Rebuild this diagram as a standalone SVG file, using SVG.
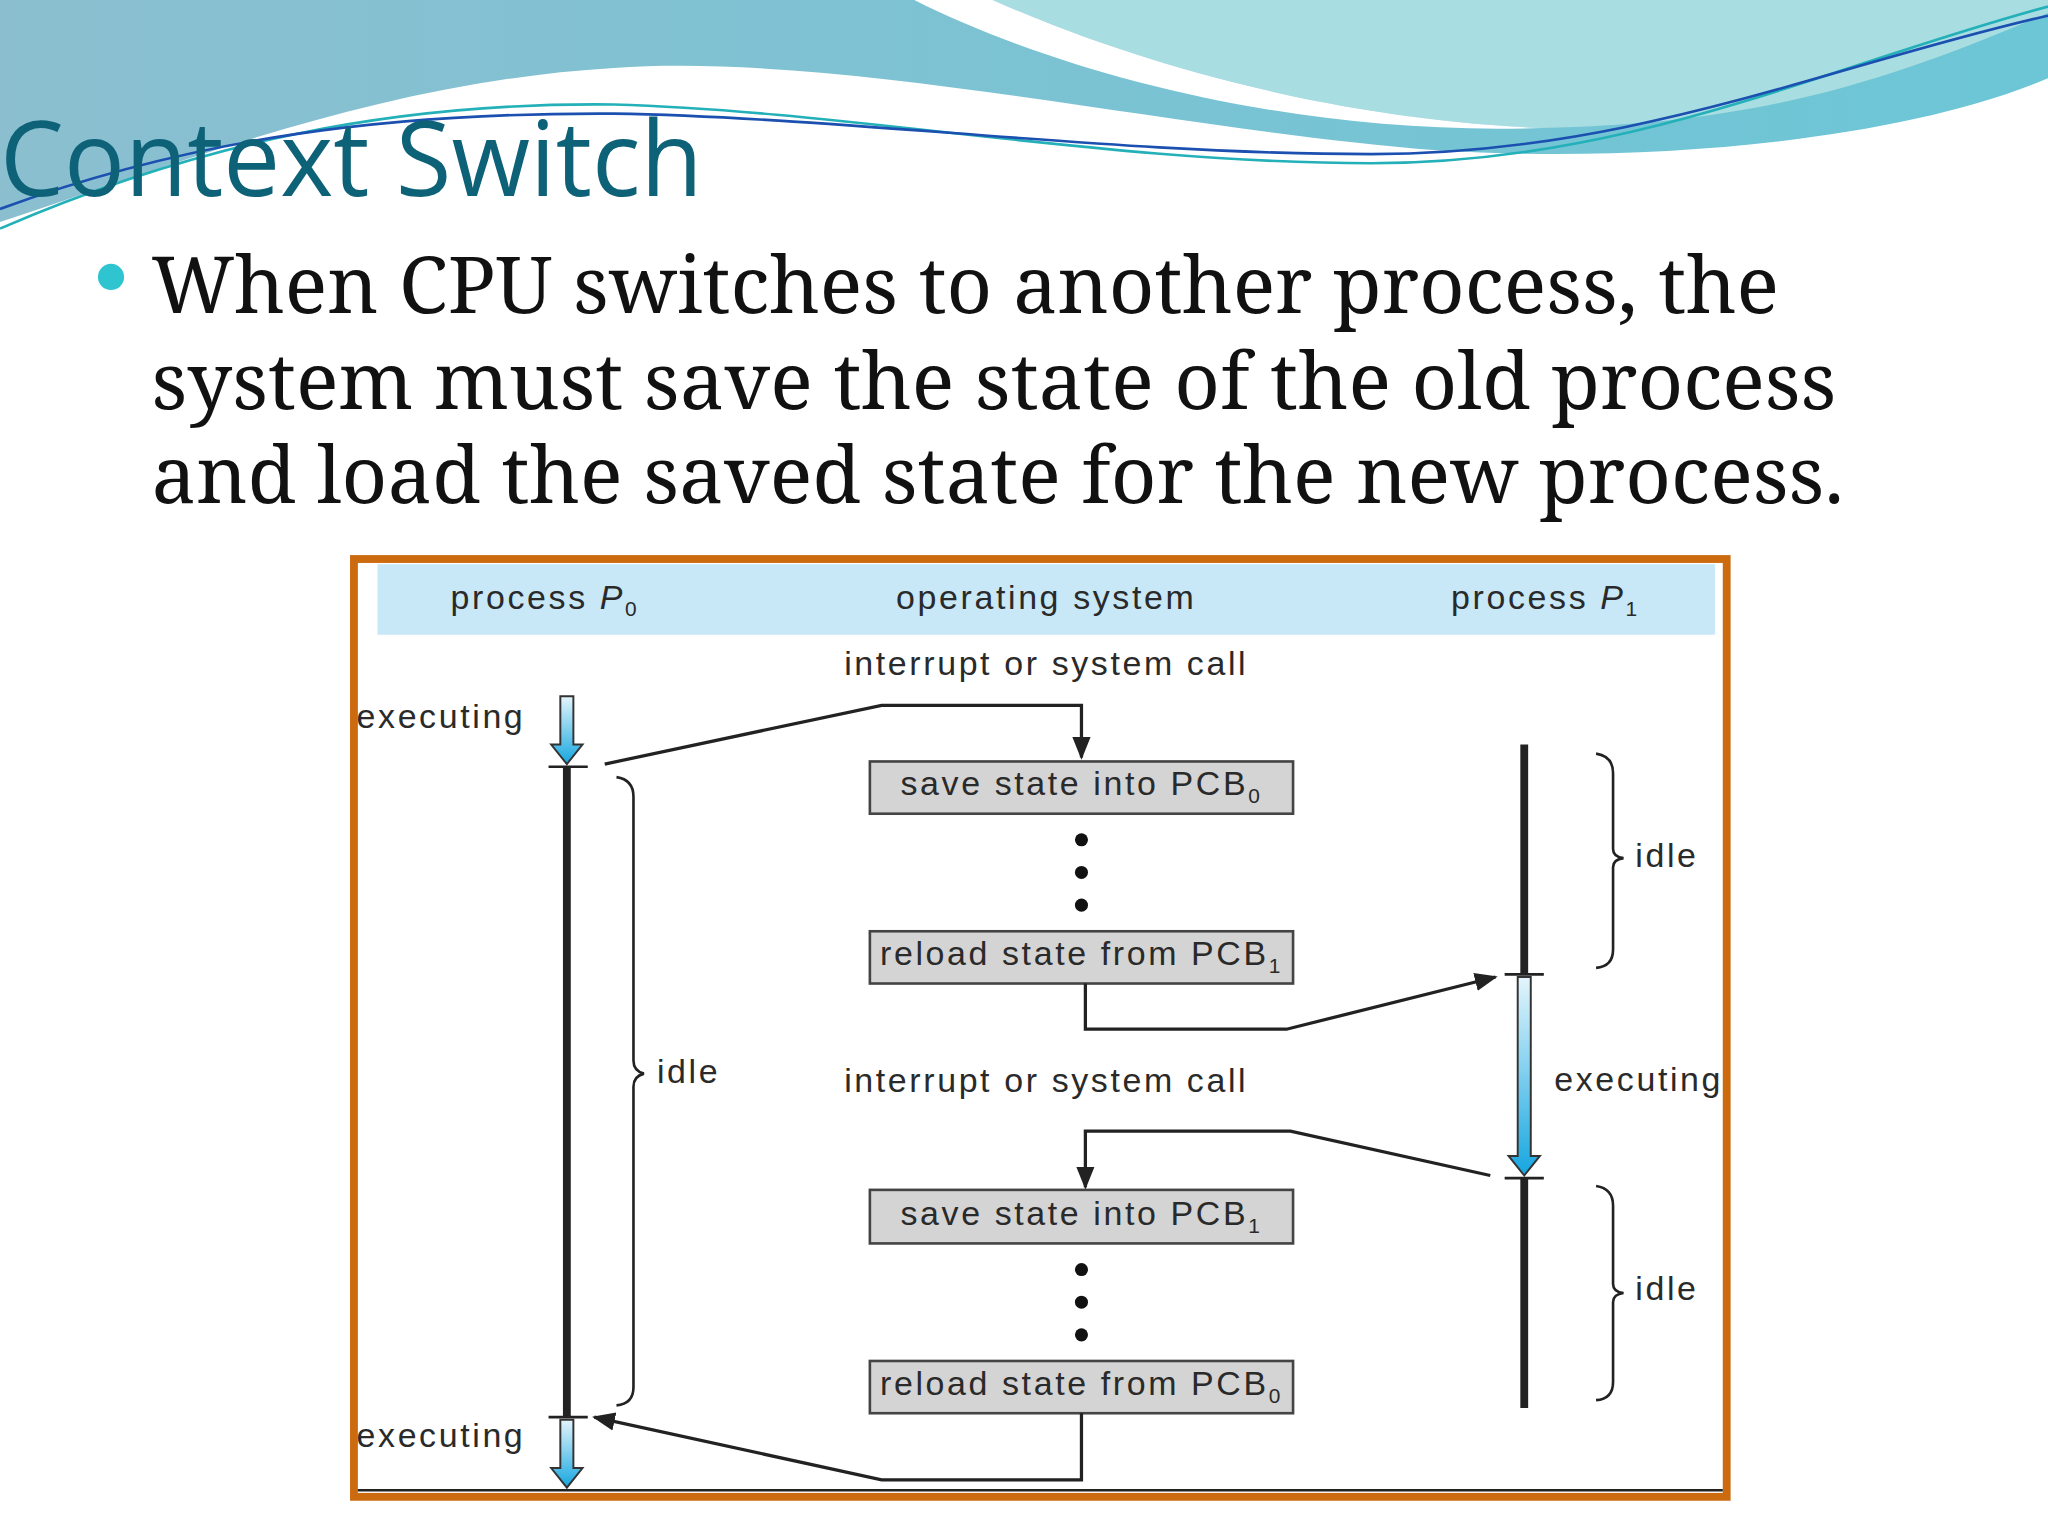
<svg xmlns="http://www.w3.org/2000/svg" width="2048" height="1536" viewBox="0 0 2048 1536">
<defs>
<linearGradient id="ba" x1="0" y1="0" x2="0" y2="1"><stop offset="0" stop-color="#e4f5fc"/><stop offset="1" stop-color="#15a6e0"/></linearGradient>
<linearGradient id="sky" x1="0" y1="0" x2="1" y2="0"><stop offset="0" stop-color="#8bbfd0"/><stop offset="1" stop-color="#6cc6d6"/></linearGradient>
<marker id="ah" viewBox="0 0 10 10" refX="9" refY="5" markerWidth="7" markerHeight="7" orient="auto"><path d="M0,1 L10,5 L0,9 z" fill="#222"/></marker>
<style>
.t{font-family:"Liberation Sans",Arial,sans-serif;font-size:26px;letter-spacing:2px;fill:#2a2a2a}
.box{fill:#d4d4d4;stroke:#444;stroke-width:2}
.ln{fill:none;stroke:#222;stroke-width:2.5}
.br{fill:none;stroke:#222;stroke-width:2}
.bar{stroke:#222;stroke-width:6}
.tick{stroke:#222;stroke-width:2}
.arr{fill:url(#ba);stroke:#333;stroke-width:1.5}
</style>
</defs>
<rect width="2048" height="1536" fill="#fff"/>
<g transform="scale(1.30612)">
<g id="background">
<path d="M0,0 H1568 V60 C1450,110 1250,125 1100,115 C900,100 650,40 470,52 C300,62 150,120 0,170 Z" fill="url(#sky)"/>
<path d="M760,0 H1568 V10 C1450,60 1350,95 1180,98 C1000,90 850,40 760,0 Z" fill="#a8dde2"/>
<path d="M700,0 L760,0 C850,40 1000,90 1180,98 C1000,104 820,60 700,0 Z" fill="#fff"/>
<path d="M0,175 C150,110 300,78 470,80 C650,85 850,125 1050,125 C1250,125 1400,50 1568,5" fill="none" stroke="#23b0b8" stroke-width="2"/>
<path d="M0,160 C150,105 300,86 470,87 C650,90 850,118 1050,118 C1250,118 1400,50 1568,12" fill="none" stroke="#1b4fb0" stroke-width="2"/>
</g>
<g id="title">
<text x="0" y="150" font-family="Open Sans,sans-serif" font-size="80" fill="#0d6278" textLength="538" lengthAdjust="spacingAndGlyphs">Context Switch</text>
</g>
<g id="bullet">
<circle cx="85" cy="212" r="10" fill="#2ec4d0"/>
<text font-family="Noto Serif,DejaVu Serif,Liberation Serif,serif" font-size="60" fill="#111">
<tspan x="116" y="240" textLength="1246" lengthAdjust="spacingAndGlyphs">When CPU switches to another process, the</tspan>
<tspan x="116" y="313" textLength="1290" lengthAdjust="spacingAndGlyphs">system must save the state of the old process</tspan>
<tspan x="116" y="385" textLength="1296" lengthAdjust="spacingAndGlyphs">and load the saved state for the new process.</tspan>
</text>
</g>
<g id="frame">
<rect x="271" y="428" width="1051" height="718" fill="#fff" stroke="#cc6a10" stroke-width="6"/>
<rect x="289" y="432" width="1024" height="54" fill="#c8e8f8"/>
<line x1="274" y1="1141" x2="1319" y2="1141" stroke="#222" stroke-width="2"/>
</g>
<g id="headers">
<text class="t" x="345" y="466">process <tspan font-style="italic">P</tspan><tspan font-size="16" dy="6">0</tspan></text>
<text class="t" x="801" y="466" text-anchor="middle">operating system</text>
<text class="t" x="1111" y="466">process <tspan font-style="italic">P</tspan><tspan font-size="16" dy="6">1</tspan></text>
<text class="t" x="801" y="517" text-anchor="middle">interrupt or system call</text>
<text class="t" x="801" y="836" text-anchor="middle">interrupt or system call</text>
</g>
<g id="p0">
<text class="t" x="273" y="557">executing</text>
<text class="t" x="273" y="1108">executing</text>
<path class="arr" d="M429,533 H439 V570 H446 L434,585 L422,570 H429 Z"/>
<line class="tick" x1="420" y1="587" x2="450" y2="587"/>
<line class="bar" x1="434" y1="587" x2="434" y2="1085"/>
<line class="tick" x1="420" y1="1085" x2="450" y2="1085"/>
<path class="arr" d="M429,1087 H439 V1124 H446 L434,1139 L422,1124 H429 Z"/>
<path class="br" d="M472,595 Q485,597 485,610 V812 Q485,820 493,822 Q485,824 485,832 V1062 Q485,1075 472,1076"/>
<text class="t" x="503" y="829">idle</text>
</g>
<g id="p1">
<line class="bar" x1="1167" y1="570" x2="1167" y2="746"/>
<line class="tick" x1="1152" y1="746" x2="1182" y2="746"/>
<path class="arr" d="M1162,748 H1172 V885 H1179 L1167,900 L1155,885 H1162 Z"/>
<line class="tick" x1="1152" y1="902" x2="1182" y2="902"/>
<line class="bar" x1="1167" y1="902" x2="1167" y2="1078"/>
<text class="t" x="1190" y="835">executing</text>
<path class="br" d="M1222,577 Q1235,579 1235,592 V650 Q1235,656 1243,657 Q1235,658 1235,664 V727 Q1235,740 1222,741"/>
<text class="t" x="1252" y="664">idle</text>
<path class="br" d="M1222,908 Q1235,910 1235,923 V983 Q1235,989 1243,990 Q1235,991 1235,997 V1058 Q1235,1071 1222,1072"/>
<text class="t" x="1252" y="995">idle</text>
</g>
<g id="os">
<rect class="box" x="666" y="583" width="324" height="40"/>
<text class="t" x="828" y="609" text-anchor="middle">save state into PCB<tspan font-size="16" dy="6">0</tspan></text>
<rect class="box" x="666" y="713" width="324" height="40"/>
<text class="t" x="828" y="739" text-anchor="middle">reload state from PCB<tspan font-size="16" dy="6">1</tspan></text>
<rect class="box" x="666" y="911" width="324" height="41"/>
<text class="t" x="828" y="938" text-anchor="middle">save state into PCB<tspan font-size="16" dy="6">1</tspan></text>
<rect class="box" x="666" y="1042" width="324" height="40"/>
<text class="t" x="828" y="1068" text-anchor="middle">reload state from PCB<tspan font-size="16" dy="6">0</tspan></text>
<g fill="#111"><circle cx="828" cy="643" r="5"/><circle cx="828" cy="668" r="5"/><circle cx="828" cy="693" r="5"/><circle cx="828" cy="972" r="5"/><circle cx="828" cy="997" r="5"/><circle cx="828" cy="1022" r="5"/></g>
</g>
<g id="connectors">
<path class="ln" d="M463,585 L675,540 H828 V580" marker-end="url(#ah)"/>
<path class="ln" d="M831,753 V788 H985 L1145,748" marker-end="url(#ah)"/>
<path class="ln" d="M1141,900 L988,866 H831 V909" marker-end="url(#ah)"/>
<path class="ln" d="M828,1082 V1133 H675 L455,1085" marker-end="url(#ah)"/>
</g>
</g>
</svg>
